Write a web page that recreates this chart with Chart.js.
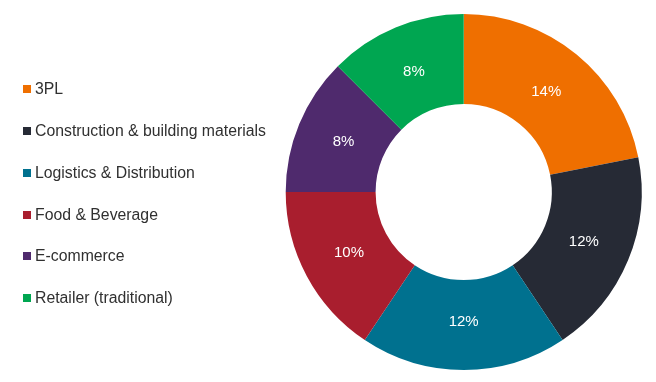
<!DOCTYPE html>
<html>
<head>
<meta charset="utf-8">
<script src="https://cdn.jsdelivr.net/npm/chart.js@4/dist/chart.umd.min.js"></script>
<style>
html,body{margin:0;padding:0;background:#fff;}
#wrap{width:656px;height:382px;position:relative;}
#chartBox{position:absolute;left:0;top:0;width:656px;height:382px;}
#legend{position:absolute;left:0;top:0;width:280px;height:382px;font-family:"Liberation Sans",Arial,sans-serif;font-size:15.8px;color:#303030;}
.item{position:absolute;left:35px;line-height:18px;white-space:nowrap;}
.box{position:absolute;left:-12px;top:5px;width:8px;height:8px;}
</style>
</head>
<body>
<div id="wrap">
  <div id="chartBox"><canvas id="c"></canvas></div>
  <div id="legend"></div>
</div>
<script>
const categories = ["3PL", "Construction & building materials", "Logistics & Distribution", "Food & Beverage", "E-commerce", "Retailer (traditional)"];
const values = [14, 12, 12, 10, 8, 8];
const valueLabels = ["14%", "12%", "12%", "10%", "8%", "8%"];
const colors = ["#EF6F00", "#262A35", "#00718F", "#A91E2E", "#4F2A6D", "#00A651"];

// HTML legend
const legendEl = document.getElementById('legend');
categories.forEach((name, i) => {
  const item = document.createElement('div');
  item.className = 'item';
  item.style.top = (80.4 + i * 41.76) + 'px';
  const box = document.createElement('span');
  box.className = 'box';
  box.style.background = colors[i];
  item.appendChild(box);
  item.appendChild(document.createTextNode(name));
  legendEl.appendChild(item);
});

const labelPlugin = {
  id: 'sliceLabels',
  afterDatasetsDraw(chart) {
    const ctx = chart.ctx;
    const meta = chart.getDatasetMeta(0);
    ctx.save();
    ctx.fillStyle = '#ffffff';
    ctx.font = '15px "Liberation Sans", Arial, sans-serif';
    ctx.textAlign = 'center';
    ctx.textBaseline = 'middle';
    meta.data.forEach((arc, i) => {
      const p = arc.getProps(['x','y','startAngle','endAngle','innerRadius','outerRadius'], true);
      const a = (p.startAngle + p.endAngle) / 2;
      const r = (p.innerRadius + p.outerRadius) / 2 - 3;
      ctx.fillText(valueLabels[i], p.x + Math.cos(a) * r, p.y + Math.sin(a) * r);
    });
    ctx.restore();
  }
};

new Chart(document.getElementById('c'), {
  type: 'doughnut',
  data: {
    labels: categories,
    datasets: [{
      data: values,
      backgroundColor: colors,
      borderWidth: 0
    }]
  },
  options: {
    responsive: true,
    maintainAspectRatio: false,
    animation: false,
    cutout: '49.5%',
    layout: { padding: { top: 14, bottom: 12, left: 271.4, right: 0 } },
    plugins: {
      tooltip: { enabled: false },
      legend: { display: false }
    }
  },
  plugins: [labelPlugin]
});
</script>
</body>
</html>
